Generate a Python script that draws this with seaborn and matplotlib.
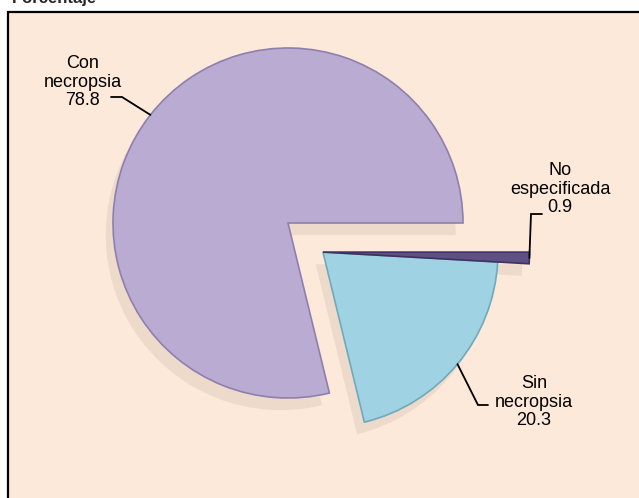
import numpy as np
import matplotlib
matplotlib.use('Agg')
import matplotlib.pyplot as plt
from matplotlib.patches import Rectangle
import seaborn as sns

# Data
categories = ['Con\nnecropsia', 'Sin\nnecropsia', 'No\nespecificada']
percentages = [78.8, 20.3, 0.9]
slice_colors = ['#BAABD2', '#9FD3E3', '#5E4F85']
edge_colors = ['#8E80AE', '#6FA9BC', '#3E3260']
explode = [0, 0.26, 0.26]

sns.set_theme(style='white')
plt.rcParams['font.family'] = ['Liberation Sans', 'DejaVu Sans']

W, H = 639, 498
fig = plt.figure(figsize=(W / 100, H / 100), dpi=100)
fig.patch.set_facecolor('white')

# Peach chart frame (only top and left edges fall inside the image)
frame = Rectangle((8 / W, -0.1), 1.2, 1 - 12 / H + 0.1, transform=fig.transFigure,
                  facecolor='#FDE9D9', edgecolor='black', linewidth=1.6, zorder=-1)
fig.patches.append(frame)
fig.text(12 / W, 1 - 3 / H, 'Porcentaje', fontsize=12, fontweight='bold', va='baseline')

ax = fig.add_axes([0, 0, 1, 1])
ax.patch.set_alpha(0)

wedges, _ = ax.pie(percentages, colors=slice_colors, explode=explode,
                   startangle=0, counterclock=True,
                   shadow={'ox': -0.03, 'oy': -0.05, 'shade': 0.8,
                           'facecolor': '#D2C0AE', 'edgecolor': 'none', 'alpha': 0.35},
                   wedgeprops=dict(linewidth=1.2))
for w, ec in zip(wedges, edge_colors):
    w.set_edgecolor(ec)

# the thin slice sits on top of the exploded "Sin necropsia" slice, drawn in perspective
wedges[2].set_center(wedges[1].center)
wedges[2].set_radius(1.18)

# pixel layout: pie centre and radius
cx, cy, scale = 288, 223, 175
ax.set_xlim(-cx / scale, (W - cx) / scale)
ax.set_ylim(-(H - cy) / scale, cy / scale)
ax.set_aspect('equal')
ax.axis('off')


def px(x, y):
    return (x - cx) / scale, (cy - y) / scale


# label position, leader elbow, leader end (pixels)
label_layout = [
    ((83, 82), (122, 97), (111, 97)),
    ((534, 402), (478, 405), (488, 405)),
    ((560, 189), (531, 214), (542, 214)),
]

for w, cat, val, (tpos, elbow, end) in zip(wedges, categories, percentages, label_layout):
    mid = np.deg2rad((w.theta1 + w.theta2) / 2)
    wx = w.center[0] + w.r * np.cos(mid)
    wy = w.center[1] + w.r * np.sin(mid)
    ex, ey = px(*elbow)
    nx, ny = px(*end)
    ax.plot([wx, ex, nx], [wy, ey, ny], color='black', linewidth=1.3, solid_joinstyle='miter')
    tx, ty = px(*tpos)
    ax.text(tx, ty, f'{cat}\n{val:.1f}', ha='center', va='center', fontsize=13,
            linespacing=1.1, color='black')

fig.savefig('out.png', dpi=100)
